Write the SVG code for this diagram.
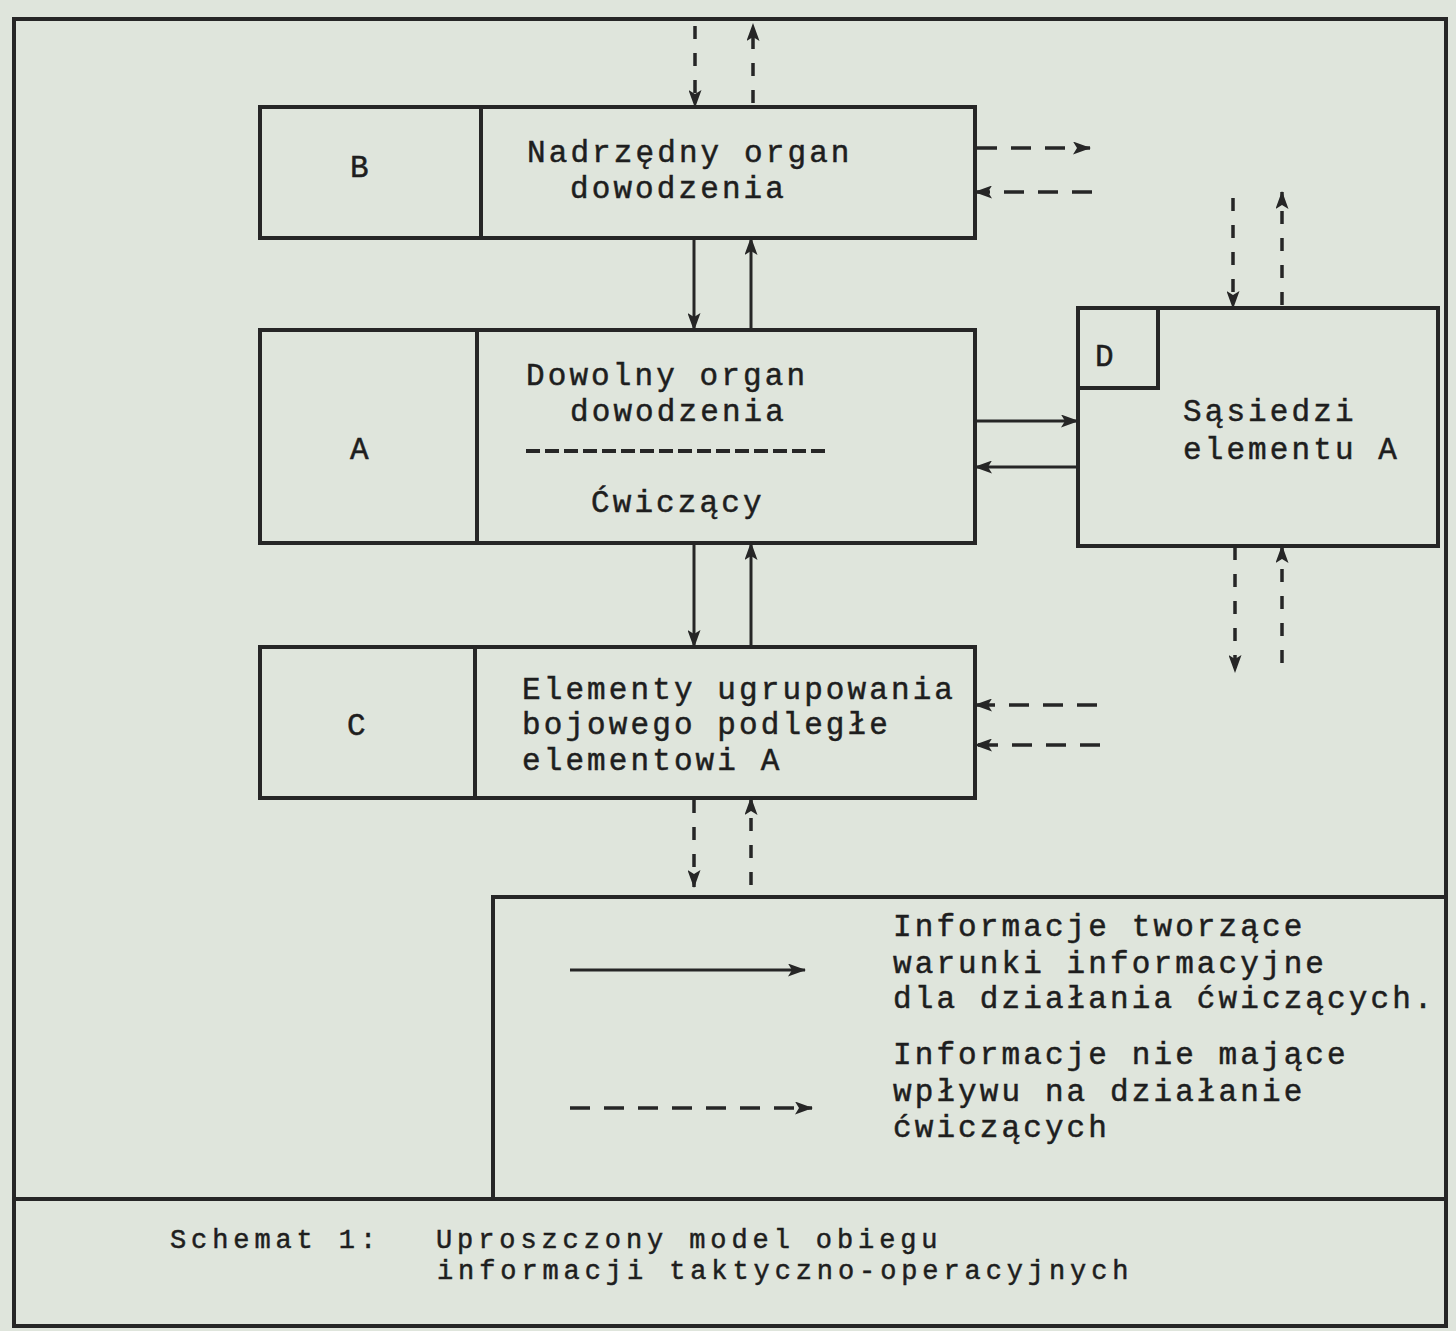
<svg xmlns="http://www.w3.org/2000/svg" width="1456" height="1331" viewBox="0 0 1456 1331">
<defs>
<style>
.frame{fill:none;stroke:#262626;stroke-width:4;stroke-linejoin:miter}
.box{fill:none;stroke:#262626;stroke-width:4}
.t{font-family:"Liberation Mono","DejaVu Sans Mono",monospace;font-size:31px;letter-spacing:3.1px;fill:#1e1e1e;stroke:#1e1e1e;stroke-width:0.5}
.lg{font-family:"Liberation Mono","DejaVu Sans Mono",monospace;font-size:31px;letter-spacing:3.1px;fill:#1e1e1e;stroke:#1e1e1e;stroke-width:0.5}
.cap{font-family:"Liberation Mono","DejaVu Sans Mono",monospace;font-size:27px;letter-spacing:4.9px;fill:#1e1e1e;stroke:#1e1e1e;stroke-width:0.5}
.s{fill:none;stroke:#262626;stroke-width:3}
.d{fill:none;stroke:#262626;stroke-width:3.5;stroke-dasharray:20 14}
.dv{fill:none;stroke:#262626;stroke-width:3.5;stroke-dasharray:13 14}
</style>
<marker id="ah" viewBox="0 0 18 13" refX="17" refY="6.5" markerWidth="18" markerHeight="13" markerUnits="userSpaceOnUse" orient="auto">
<path d="M0,0 L18,6.5 L0,13 L4,6.5 z" fill="#262626"/>
</marker>
</defs>
<rect x="0" y="0" width="1456" height="1331" fill="#dfe5dc"/>

<g id="frame">
<rect class="frame" x="14" y="19" width="1432" height="1307"/>
<line class="frame" x1="14" y1="1199" x2="1446" y2="1199"/>
</g>

<g id="node-B">
<rect class="box" x="260" y="107" width="715" height="131"/>
<line class="box" x1="481" y1="107" x2="481" y2="238"/>
<text class="t" x="350" y="177">B</text>
<text class="t" x="527" y="162">Nadrzędny organ</text>
<text class="t" x="570" y="198">dowodzenia</text>
</g>

<g id="node-A">
<rect class="box" x="260" y="330" width="715" height="213"/>
<line class="box" x1="477" y1="330" x2="477" y2="543"/>
<text class="t" x="350" y="459">A</text>
<text class="t" x="526" y="385">Dowolny organ</text>
<text class="t" x="570" y="421">dowodzenia</text>
<line x1="526" y1="451" x2="830" y2="451" stroke="#262626" stroke-width="4" stroke-dasharray="14 5"/>
<text class="t" x="591" y="512">Ćwiczący</text>
</g>

<g id="node-D">
<rect class="box" x="1078" y="308" width="360" height="238"/>
<polyline class="box" points="1078,388 1158,388 1158,308"/>
<text class="t" x="1095" y="366">D</text>
<text class="t" x="1183" y="421">Sąsiedzi</text>
<text class="t" x="1183" y="459">elementu A</text>
</g>

<g id="node-C">
<rect class="box" x="260" y="647" width="715" height="151"/>
<line class="box" x1="475" y1="647" x2="475" y2="798"/>
<text class="t" x="347" y="735">C</text>
<text class="t" x="522" y="699">Elementy ugrupowania</text>
<text class="t" x="522" y="734">bojowego podległe</text>
<text class="t" x="522" y="770">elementowi A</text>
</g>

<g id="legend">
<polyline class="box" points="493,1199 493,897 1446,897"/>
<line class="s" x1="570" y1="970" x2="805" y2="970" marker-end="url(#ah)"/>
<line class="d" x1="570" y1="1108" x2="812" y2="1108" marker-end="url(#ah)" stroke-dasharray="22 17"/>
<text class="lg" x="893" y="936">Informacje tworzące</text>
<text class="lg" x="893" y="973">warunki informacyjne</text>
<text class="lg" x="893" y="1008">dla działania ćwiczących.</text>
<text class="lg" x="893" y="1064">Informacje nie mające</text>
<text class="lg" x="893" y="1101">wpływu na działanie</text>
<text class="lg" x="893" y="1137">ćwiczących</text>
</g>

<g id="caption">
<text class="cap" x="170" y="1248">Schemat 1:</text>
<text class="cap" x="436" y="1248">Uproszczony model obiegu</text>
<text class="cap" x="437" y="1279">informacji taktyczno-operacyjnych</text>
</g>

<g id="connectors">
<line class="dv" x1="695" y1="26" x2="695" y2="107" marker-end="url(#ah)"/>
<line class="dv" x1="753" y1="103" x2="753" y2="24" marker-end="url(#ah)"/>
<line class="s" x1="694" y1="238" x2="694" y2="330" marker-end="url(#ah)"/>
<line class="s" x1="751" y1="330" x2="751" y2="238" marker-end="url(#ah)"/>
<line class="d" x1="977" y1="148" x2="1090" y2="148" marker-end="url(#ah)"/>
<line class="d" x1="1092" y1="192" x2="975" y2="192" marker-end="url(#ah)"/>
<line class="dv" x1="1233" y1="198" x2="1233" y2="308" marker-end="url(#ah)"/>
<line class="dv" x1="1282" y1="305" x2="1282" y2="192" marker-end="url(#ah)"/>
<line class="s" x1="975" y1="421" x2="1078" y2="421" marker-end="url(#ah)"/>
<line class="s" x1="1078" y1="467" x2="975" y2="467" marker-end="url(#ah)"/>
<line class="dv" x1="1235" y1="547" x2="1235" y2="672" marker-end="url(#ah)"/>
<line class="dv" x1="1282" y1="663" x2="1282" y2="546" marker-end="url(#ah)"/>
<line class="s" x1="694" y1="543" x2="694" y2="647" marker-end="url(#ah)"/>
<line class="s" x1="751" y1="647" x2="751" y2="543" marker-end="url(#ah)"/>
<line class="d" x1="1097" y1="705" x2="975" y2="705" marker-end="url(#ah)"/>
<line class="d" x1="1100" y1="745" x2="975" y2="745" marker-end="url(#ah)"/>
<line class="dv" x1="694" y1="800" x2="694" y2="887" marker-end="url(#ah)"/>
<line class="dv" x1="751" y1="885" x2="751" y2="798" marker-end="url(#ah)"/>
</g>
</svg>
